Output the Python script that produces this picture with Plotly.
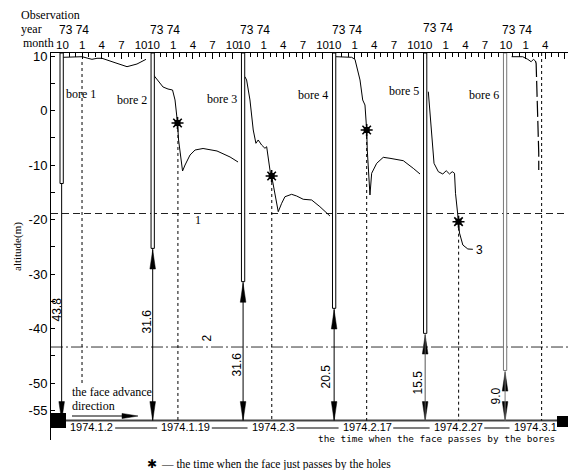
import plotly.graph_objects as go

# ---------------- data ----------------
bore_names = ["bore 1", "bore 2", "bore 3", "bore 4", "bore 5", "bore 6"]
face_dates = ["1974.1.2", "1974.1.19", "1974.2.3", "1974.2.17", "1974.2.27", "1974.3.1"]
seam_gap_labels = ["43.8", "31.6", "31.6", "20.5", "15.5", "9.0"]
casing_bottom_alt = [-13.4, -25.3, -31.4, -36.3, -40.9, -47.7]
seam_alt = -56.9
line1_alt = -18.9
line2_alt = -43.4
month_ticks = [0, 3, 6, 9, 12]
month_text = ["10", "1", "4", "7", "10"]
year_text = "73 74"
y_tick_vals = [10, 0, -10, -20, -30, -40, -50, -55]
y_tick_text = ["10", "0", "-10", "-20", "-30", "-40", "-50", "-55"]
y_minor_vals = [5, -5, -15, -25, -35, -45]

# observation curves: months after 1973-10, altitude (m)
b1_m = [0.08, 2.98, 3.89, 4.50, 5.27, 6.03, 8.02, 9.85, 11.37, 12.75]
b1_a = [9.76, 9.87, 9.58, 9.39, 9.58, 9.58, 8.77, 8.04, 8.53, 9.39]
b2_m = [0.0, 1.45, 2.21, 2.90, 3.28, 3.54, 3.66, 3.82, 4.05, 4.43, 4.81, 5.57, 6.34, 7.56, 9.69, 11.68, 12.9]
b2_a = [6.51, 4.31, 3.94, 3.76, 1.93, -0.46, -2.29, -5.41, -7.61, -11.10, -10.0, -8.17, -7.25, -6.97, -7.43, -8.53, -9.45]
b3_m = [0.15, 0.41, 0.92, 1.42, 1.83, 2.18, 2.70, 3.21, 3.47, 3.71, 4.08, 4.23, 4.73, 5.24, 5.76, 6.26, 7.28, 8.05, 9.05, 10.34, 11.6, 13.13]
b3_a = [6.20, 5.60, 1.93, -3.58, -6.02, -5.41, -6.33, -6.94, -6.64, -8.48, -11.83, -12.02, -15.19, -18.57, -17.03, -15.82, -15.38, -15.69, -16.29, -16.42, -17.65, -19.36]
b4_m = [0.15, 2.55, 3.05, 3.82, 4.23, 4.58, 4.84, 4.93, 5.34, 5.60, 6.37, 7.37, 8.40, 10.43, 11.95, 12.98]
b4_a = [9.87, 9.76, 9.39, 5.60, 1.93, 1.01, -3.58, -7.25, -15.5, -11.52, -9.69, -8.59, -8.77, -9.21, -10.61, -11.65]
b5_m = [0.35, 0.87, 1.11, 1.22, 1.88, 2.56, 3.08, 3.59, 4.0, 4.35, 4.50, 4.85, 4.96]
b5_a = [3.45, -4.13, -8.48, -9.69, -11.23, -11.65, -11.05, -11.65, -11.23, -11.52, -15.19, -18.86, -20.40]
b5_lead_m = [4.96, 5.11, 5.62, 6.38, 7.15]
b5_lead_a = [-20.40, -22.48, -24.68, -25.41, -25.47]
b6_m = [0.87, 2.56, 3.33, 3.85, 4.20, 4.50]
b6_a = [9.87, 9.87, 9.39, 8.95, 9.39, 9.08]
b6_ext_m = [4.50, 4.61, 5.01, 5.01]
b6_ext_a = [9.08, 8.66, -7.8, -10.9]

curves_m = [b1_m, b2_m, b3_m, b4_m, b5_m, b6_m]
curves_a = [b1_a, b2_a, b3_a, b4_a, b5_a, b6_a]

star_m = [None, 3.66, 4.23, 4.84, 4.96, None]
star_a = [None, -2.29, -12.02, -3.58, -20.40, None]
face_m = [2.98, 3.72, 4.25, 4.84, 4.98, 5.45]

# ---------------- layout geometry ----------------
W, H = 568, 470
ML, MT, MR, MB = 51, 53, 0, 30
PW, PH = W - ML - MR, H - MT - MB
PXM = 6.55   # px per month
PXA = 5.45   # px per metre
P0 = 62.5    # pixel of first panel origin
PANEL_X = [0.0, 13.9, 27.7, 41.6, 55.5, 67.7]   # panel origins (months)
x_range = [(ML - P0) / PXM, (W - MR - P0) / PXM]
y_top = 10 + (56 - MT) / PXA
y_range = [y_top - PH / PXA, y_top]


def px2m(px):
    return (px - P0) / PXM


def py2a(py):
    return 10 - (py - 56) / PXA


def pxp(px):
    return (px - ML) / PW


def pyp(py):
    return (H - MB - py) / PH


SANS = "Liberation Sans"
SERIF = "Liberation Serif"
MONO = "DejaVu Sans Mono"


def f(family, size):
    return dict(family=family, size=size, color="black")


fig = go.Figure()
shapes = []
ann = []

# reference horizontal lines
shapes.append(dict(type="line", xref="paper", x0=0, x1=1, yref="y", y0=line1_alt, y1=line1_alt,
                   line=dict(color="#222", width=1, dash="7px,4px"), layer="below"))
shapes.append(dict(type="line", xref="paper", x0=0, x1=1, yref="y", y0=line2_alt, y1=line2_alt,
                   line=dict(color="#333", width=1, dash="12px,3px,2px,3px"), layer="below"))
ann.append(dict(x=px2m(198), y=py2a(220), text="1", showarrow=False, font=f(SERIF, 12)))
ann.append(dict(x=px2m(206.5), y=py2a(338), text="2", showarrow=False, textangle=-90, font=f(SANS, 12)))

# seam line + end blocks
shapes.append(dict(type="line", xref="paper", x0=0, x1=1, yref="y", y0=seam_alt, y1=seam_alt,
                   line=dict(color="#444", width=2)))
shapes.append(dict(type="rect", x0=px2m(51), x1=px2m(66), y0=py2a(428), y1=py2a(413),
                   line=dict(width=0), fillcolor="black"))
shapes.append(dict(type="rect", x0=px2m(557), x1=px2m(568), y0=py2a(427), y1=py2a(416),
                   line=dict(width=0), fillcolor="black"))

# arrow heads collected
tri_x, tri_y = [], []
HW = 2.8 / PXM
AL = 19 / PXA


def tri_vert(x, tip, down):
    base = tip + AL if down else tip - AL
    tri_x.extend([x - HW, x + HW, x, x - HW, None])
    tri_y.extend([base, base, tip, base, None])


meas_pos_y = [309, 322, 364, 376, 383, 396]
meas_dx = [-3.5, -5.5, -5, -7, -7, -8]
bore_lab_y = [94, 100, 99, 95, 91, 95]
bore_col = ["black", "black", "black", "black", "black", "#777"]
line_col = ["black", "black", "black", "black", "#555", "#777"]

label_start = []
for i in range(6):
    o = PANEL_X[i]
    bx = o - 0.13
    # bore casing (double line)
    shapes.append(dict(type="rect", x0=o - 0.38, x1=o + 0.12, y0=casing_bottom_alt[i], y1=y_top,
                       line=dict(color=bore_col[i], width=1), fillcolor="white"))
    # distance line to seam
    shapes.append(dict(type="line", x0=bx, x1=bx, y0=casing_bottom_alt[i], y1=seam_alt,
                       line=dict(color=line_col[i], width=1)))
    tri_vert(bx, seam_alt, True)
    if i > 0:
        tri_vert(bx, casing_bottom_alt[i] - 0.3, False)
    ann.append(dict(x=bx + meas_dx[i] / PXM - 0.1, y=py2a(meas_pos_y[i]), text=seam_gap_labels[i],
                    showarrow=False, textangle=-90, font=f(SANS, 12)))
    # bore label
    if i == 0:
        ann.append(dict(x=o + 0.2, y=py2a(bore_lab_y[i]), text=bore_names[i], xanchor="left",
                        showarrow=False, font=f(SERIF, 12)))
    else:
        ann.append(dict(x=o - 0.7, y=py2a(bore_lab_y[i]), text=bore_names[i], xanchor="right",
                        showarrow=False, font=f(SERIF, 12)))
    # year labels
    ann.append(dict(xref="x", x=o + 1.76, yref="paper", y=pyp(30 if i != 4 else 28),
                    yanchor="middle", text=year_text, showarrow=False, font=f(SANS, 12)))
    # face-passing dashed line
    if star_a[i] is None:
        y0 = py2a(62) if i == 0 else y_top
    else:
        y0 = star_a[i]
    y1 = py2a(385) if i == 0 else seam_alt
    shapes.append(dict(type="line", x0=o + face_m[i], x1=o + face_m[i], y0=y0, y1=y1,
                       line=dict(color="black", width=1, dash="3px,3px")))
    # date label along the seam
    ls = o + 0.9
    label_start.append(ls)
    ann.append(dict(x=ls, y=py2a(427), text=face_dates[i], xanchor="left", showarrow=False,
                    font=f(SANS, 11)))

for i in range(5):
    xs = label_start[i] + len(face_dates[i]) * 5.6 / PXM + 0.3
    xe = label_start[i + 1] - 0.35
    shapes.append(dict(type="line", x0=xs, x1=xe, y0=py2a(428), y1=py2a(428),
                       line=dict(color="black", width=1)))

# advance direction arrow
ax0, ax1 = px2m(72), px2m(138)
ay0 = py2a(416)
shapes.append(dict(type="line", x0=ax0, x1=ax1 - 1.5, y0=ay0, y1=ay0, line=dict(color="black", width=1)))
hl = 16 / PXM
hw = 2.6 / PXA
tri_x.extend([ax1 - hl, ax1 - hl, ax1, ax1 - hl, None])
tri_y.extend([ay0 - hw, ay0 + hw, ay0, ay0 - hw, None])
ann.append(dict(x=px2m(70), y=py2a(392), text="the face advance", xanchor="left", showarrow=False,
                font=f(SERIF, 12)))
ann.append(dict(x=px2m(70), y=py2a(406), text="direction", xanchor="left", showarrow=False,
                font=f(SERIF, 12)))

# curves
for i in range(6):
    o = PANEL_X[i]
    fig.add_trace(go.Scatter(x=[o + m for m in curves_m[i]], y=curves_a[i], mode="lines",
                             line=dict(color="black", width=1), showlegend=False, hoverinfo="skip"))
fig.add_trace(go.Scatter(x=[PANEL_X[4] + m for m in b5_lead_m], y=b5_lead_a, mode="lines",
                         line=dict(color="black", width=1), showlegend=False, hoverinfo="skip"))
fig.add_trace(go.Scatter(x=[PANEL_X[5] + m for m in b6_ext_m], y=b6_ext_a, mode="lines",
                         line=dict(color="black", width=1.2, dash="16px,4px"), showlegend=False,
                         hoverinfo="skip"))
ann.append(dict(x=PANEL_X[4] + 7.15 + 0.2, y=-25.6, text="3", xanchor="left", showarrow=False,
                font=f(SANS, 12)))

# arrow heads
fig.add_trace(go.Scatter(x=tri_x, y=tri_y, mode="lines", fill="toself", fillcolor="black",
                         line=dict(color="black", width=0.5), showlegend=False, hoverinfo="skip"))

# stars
sx = [PANEL_X[i] + star_m[i] for i in range(6) if star_m[i] is not None]
sy = [a for a in star_a if a is not None]
fig.add_trace(go.Scatter(x=sx, y=sy, mode="markers",
                         marker=dict(symbol="square", size=6, color="black"),
                         showlegend=False, hoverinfo="skip"))
fig.add_trace(go.Scatter(x=sx, y=sy, mode="markers",
                         marker=dict(symbol="asterisk-open", size=10, color="black",
                                     line=dict(color="black", width=1.6)),
                         showlegend=False, hoverinfo="skip"))


# outside texts (pixel positioned)
def ptext(px, py, text, family, size, anchor="left", angle=0):
    ann.append(dict(xref="paper", yref="paper", x=pxp(px), y=pyp(py), text=text, xanchor=anchor,
                    yanchor="middle", showarrow=False, textangle=angle, font=f(family, size)))


ptext(19, 15, "Observation", SERIF, 12)
ptext(19, 29, "year", SERIF, 12)
ptext(21, 43, "month", SERIF, 12)
ptext(18, 247, "altitude(m)", SERIF, 11, anchor="center", angle=-90)
ptext(316, 438, "the time when the face passes by the bores", MONO, 9.4)
ptext(152, 464, "<b>✱</b>", "DejaVu Sans", 12, anchor="center")
ptext(159, 464, "— the time when the face just passes by the holes", SERIF, 11.5)

# x axis ticks (top)
tv, tt, mv = [], [], []
for i, o in enumerate(PANEL_X):
    nxt = PANEL_X[i + 1] if i < 5 else x_range[1]
    for m in range(0, 13):
        g = o + m
        if g > nxt - 0.4:
            break
        if m in month_ticks:
            tv.append(g)
            tt.append(month_text[month_ticks.index(m)])
        else:
            mv.append(g)

fig.update_layout(
    width=W, height=H, autosize=False,
    margin=dict(l=ML, r=MR, t=MT, b=MB, pad=0, autoexpand=False),
    paper_bgcolor="white", plot_bgcolor="white",
    font=dict(family=SANS, color="black"),
    shapes=shapes, annotations=ann, showlegend=False,
    xaxis=dict(range=x_range, side="top", showgrid=False, zeroline=False, showline=True,
               automargin=False, ticklabelstandoff=-2, tickangle=0,
               linecolor="black", linewidth=1, ticks="inside", ticklen=6, tickcolor="black",
               tickmode="array", tickvals=tv, ticktext=tt,
               tickfont=dict(family=SANS, size=11.5, color="black"),
               minor=dict(tickmode="array", tickvals=mv, ticks="inside", ticklen=4,
                          tickcolor="black", showgrid=False)),
    yaxis=dict(range=y_range, showgrid=False, zeroline=False, showline=True,
               automargin=False,
               linecolor="black", linewidth=1, ticks="inside", ticklen=4, tickcolor="black",
               tickmode="array", tickvals=y_tick_vals, ticktext=y_tick_text,
               tickfont=dict(family=SANS, size=13, color="black"),
               minor=dict(tickmode="array", tickvals=y_minor_vals, ticks="inside", ticklen=4,
                          tickcolor="black", showgrid=False)),
)

fig.write_html("out.html", config={"displayModeBar": False},
               post_script="document.body.style.margin='0px';")
